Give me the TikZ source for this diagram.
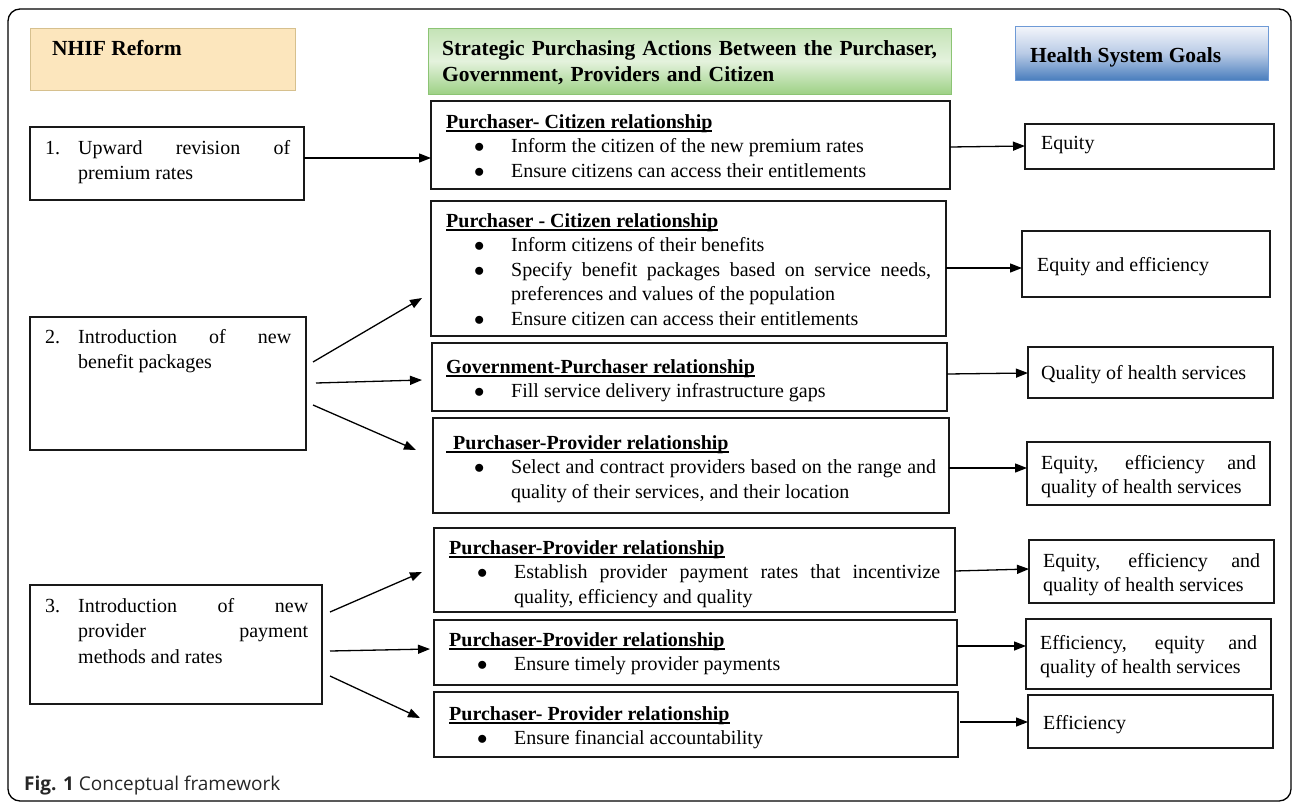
\documentclass[tikz,border=0pt]{standalone}
\usepackage{fontspec}
\setmainfont{Liberation Serif}
\newfontfamily\capfont{Open Sans}
\usetikzlibrary{arrows.meta,calc}
\setlength{\parindent}{0pt}
\newcommand\ulx[1]{\setbox0\hbox{#1}\rlap{\rule[-3.5pt]{\wd0}{1.3pt}}\box0}
\newcommand\bitem{\par\noindent\hangindent=65pt\hangafter=1\hspace*{28pt}\makebox[37pt][l]{$\bullet$}}
\newcommand\litem[1]{\noindent\hangindent=33pt\hangafter=1\makebox[33pt][l]{#1}}
\newcommand\bodyfont{\fontsize{20}{24.5}\selectfont}
\newcommand\leftfont{\fontsize{20}{25.5}\selectfont}
\definecolor{nhiffill}{HTML}{FCE6BD}
\definecolor{nhifdraw}{HTML}{D6C08E}
\definecolor{grtop}{HTML}{C4E3B6}
\definecolor{grmid}{HTML}{E4F2DD}
\definecolor{grbot}{HTML}{9ED186}
\definecolor{grdraw}{HTML}{8CC474}
\definecolor{bltop}{HTML}{F4F6FB}
\definecolor{blmid}{HTML}{B9CBE6}
\definecolor{blbot}{HTML}{4A7EBD}
\definecolor{bldraw}{HTML}{6E9AD6}
\begin{document}
\begin{tikzpicture}[x=1pt,y=-1pt,
  box/.style={draw=black!90, line width=1.3pt, anchor=north west, inner sep=0pt, outer sep=0pt},
  hbox/.style={line width=1pt, anchor=north west, inner sep=0pt, outer sep=0pt},
  txt/.style={anchor=base west, inner sep=0pt, align=justify, font=\bodyfont},
  stxt/.style={anchor=base west, inner sep=0pt, font=\bodyfont},
  ltxt/.style={anchor=base west, inner sep=0pt, align=justify, font=\leftfont},
  htxt/.style={anchor=base west, inner sep=0pt, align=left, font={\fontsize{21.5}{26}\selectfont\bfseries}},
  arr/.style={line width=1.3pt, -{Triangle[length=12pt,width=9pt]}}]
\useasboundingbox (0,0) rectangle (1292,803);
\draw[line width=1.3pt, rounded corners=12pt] (8,9) rectangle (1291,801);

% headers
\node[hbox, draw=nhifdraw, fill=nhiffill, minimum width=265pt, minimum height=62pt] (H1) at (30,28) {};
\node[htxt] (H1t) at ($(H1.north west)+(22,27)$) {NHIF Reform};
\node[hbox, draw=grdraw, top color=grtop, bottom color=grbot, middle color=grmid, minimum width=523pt, minimum height=66pt] (H2) at (428,28) {};
\node[htxt, text width=505pt] (H2t) at ($(H2.north west)+(14,27)$) {Strategic Purchasing Actions Between the Purchaser,\\Government, Providers and Citizen};
\node[hbox, draw=bldraw, top color=bltop, bottom color=blbot, middle color=blmid, minimum width=253pt, minimum height=54pt] (H3) at (1015,26) {};
\node[htxt] (H3t) at ($(H3.north west)+(15,36)$) {Health System Goals};

% left boxes
\node[box, minimum width=274pt, minimum height=73pt] (L1) at (30,127) {};
\node[ltxt, text width=245pt] (L1t) at ($(L1.north west)+(15,27)$) {\litem{1.}Upward revision of\linebreak premium rates\par};
\node[box, minimum width=276pt, minimum height=133pt] (L2) at (30,317) {};
\node[ltxt, text width=246pt] (L2t) at ($(L2.north west)+(15,26)$) {\litem{2.}Introduction of new\linebreak benefit packages\par};
\node[box, minimum width=292pt, minimum height=119pt] (L3) at (30,585) {};
\node[ltxt, text width=263pt] (L3t) at ($(L3.north west)+(15,27)$) {\litem{3.}Introduction of new\linebreak provider payment\linebreak methods and rates\par};

% middle boxes
\node[box, minimum width=519pt, minimum height=88pt] (M1) at (431,101) {};
\node[txt, text width=485pt] (M1t) at ($(M1.north west)+(15,27)$) {\ulx{\textbf{Purchaser- Citizen relationship}}
\bitem Inform the citizen of the new premium rates
\bitem Ensure citizens can access their entitlements\par};

\node[box, minimum width=515pt, minimum height=135pt] (M2) at (431,201) {};
\node[txt, text width=485pt] (M2t) at ($(M2.north west)+(15,26)$) {\ulx{\textbf{Purchaser - Citizen relationship}}
\bitem Inform citizens of their benefits
\bitem Specify benefit packages based on service needs,\linebreak preferences and values of the population
\bitem Ensure citizen can access their entitlements\par};

\node[box, minimum width=515pt, minimum height=68pt] (M3) at (432,343) {};
\node[txt, text width=485pt] (M3t) at ($(M3.north west)+(14,30)$) {\ulx{\textbf{Government-Purchaser relationship}}
\bitem Fill service delivery infrastructure gaps\par};

\node[box, minimum width=516pt, minimum height=95pt] (M4) at (433,418) {};
\node[txt, text width=490pt] (M4t) at ($(M4.north west)+(13,31)$) {\ulx{\hspace*{7pt}\textbf{Purchaser-Provider relationship}}
\bitem Select and contract providers based on the range and\linebreak quality of their services, and their location\par};

\node[box, minimum width=521pt, minimum height=84pt] (M5) at (434,528) {};
\node[txt, text width=491pt] (M5t) at ($(M5.north west)+(15,26)$) {\ulx{\textbf{Purchaser-Provider relationship}}
\bitem Establish provider payment rates that incentivize\linebreak quality, efficiency and quality\par};

\node[box, minimum width=523pt, minimum height=65pt] (M6) at (434,620) {};
\node[txt, text width=491pt] (M6t) at ($(M6.north west)+(15,26)$) {\ulx{\textbf{Purchaser-Provider relationship}}
\bitem Ensure timely provider payments\par};

\node[box, minimum width=524pt, minimum height=65pt] (M7) at (434,692) {};
\node[txt, text width=491pt] (M7t) at ($(M7.north west)+(15,28)$) {\ulx{\textbf{Purchaser- Provider relationship}}
\bitem Ensure financial accountability\par};

% right boxes
\node[box, minimum width=249pt, minimum height=45pt] (R1) at (1025,124) {};
\node[stxt] (R1t) at ($(R1.north west)+(16,25)$) {Equity};
\node[box, minimum width=248pt, minimum height=66pt] (R2) at (1022,231) {};
\node[stxt] (R2t) at ($(R2.north west)+(15,40)$) {Equity and efficiency};
\node[box, minimum width=245pt, minimum height=51pt] (R3) at (1028,347) {};
\node[stxt] (R3t) at ($(R3.north west)+(13,32)$) {Quality of health services};
\node[box, minimum width=243pt, minimum height=63pt] (R4) at (1027,442) {};
\node[txt, text width=215pt] (R4t) at ($(R4.north west)+(14,27)$) {Equity, efficiency and\linebreak quality of health services};
\node[box, minimum width=245pt, minimum height=63pt] (R5) at (1029,540) {};
\node[txt, text width=217pt] (R5t) at ($(R5.north west)+(14,27)$) {Equity, efficiency and\linebreak quality of health services};
\node[box, minimum width=245pt, minimum height=70pt] (R6) at (1026,619) {};
\node[txt, text width=217pt] (R6t) at ($(R6.north west)+(14,30)$) {Efficiency, equity and\linebreak quality of health services};
\node[box, minimum width=245pt, minimum height=53pt] (R7) at (1028,695) {};
\node[stxt] (R7t) at ($(R7.north west)+(15,34)$) {Efficiency};

% arrows left -> middle
\draw[arr] ($(L1.north east)+(0,31)$) -- ($(M1.north west)+(0,57)$);
\draw[arr] ($(L2.north east)+(7,45)$) -- ($(M2.south west)+(-9,-38)$);
\draw[arr] ($(L2.north east)+(10,66)$) -- ($(M3.north west)+(-10,37)$);
\draw[arr] ($(L2.north east)+(7,88)$) -- ($(M4.north west)+(-17,32)$);
\draw[arr] ($(L3.north east)+(8,27)$) -- ($(M5.north west)+(-12,44)$);
\draw[arr] ($(L3.north east)+(8,66)$) -- ($(M6.north west)+(-4,29)$);
\draw[arr] ($(L3.north east)+(8,91)$) -- ($(M7.north west)+(-14,26)$);

% arrows middle -> right
\draw[arr] ($(M1.north east)+(0,46)$) -- ($(R1.north west)+(0,22)$);
\draw[arr] ($(M2.north east)+(0,67)$) -- ($(R2.north west)+(0,37)$);
\draw[arr] ($(M3.north east)+(0,31)$) -- ($(R3.north west)+(0,26)$);
\draw[arr] ($(M4.north east)+(0,50)$) -- ($(R4.north west)+(0,26)$);
\draw[arr] ($(M5.north east)+(0,43)$) -- ($(R5.north west)+(0,29)$);
\draw[arr] ($(M6.north east)+(0,26)$) -- ($(R6.north west)+(0,27)$);
\draw[arr] ($(M7.north east)+(2,30)$) -- ($(R7.north west)+(0,27)$);

% caption
\node[anchor=base west, inner sep=0pt, font={\capfont\fontsize{19}{22}\selectfont}, text=black!85] (cap) at (24,790) {\textbf{Fig. 1} Conceptual framework};
\end{tikzpicture}
\end{document}
